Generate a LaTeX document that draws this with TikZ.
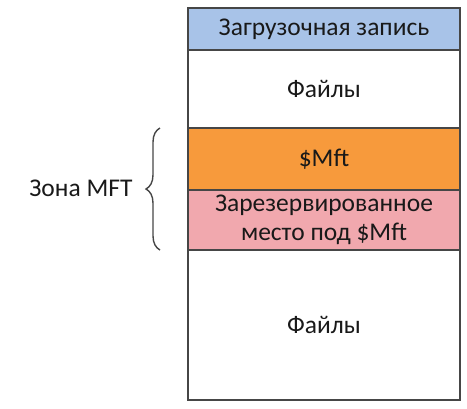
\documentclass[tikz,border=0pt]{standalone}
\usepackage{fontspec}
\setmainfont{Carlito}
\usetikzlibrary{decorations.pathreplacing}
\definecolor{bootblue}{RGB}{168,195,232}
\definecolor{mftorange}{RGB}{247,154,60}
\definecolor{resvpink}{RGB}{241,168,174}
\definecolor{edgegray}{RGB}{70,70,70}
\begin{document}
\begin{tikzpicture}[x=1pt, y=-1pt, lbl/.style={font=\fontsize{25.5}{29}\selectfont, text=black!90, align=center}]
\useasboundingbox (0,0) rectangle (467,408);
% Загрузочная запись
\fill[bootblue] (188,8) rectangle (460,50);
\node[lbl] (boot) at (324,29) {Загрузочная запись};
% Файлы
\node[lbl] (files1) at (324,89) {Файлы};
% $Mft
\fill[mftorange] (188,128) rectangle (460,190);
\node[lbl] (mft) at (324,159) {\$Mft};
% резерв
\fill[resvpink] (188,190) rectangle (460,250);
\node[lbl] (resv) at (324,220) {Зарезервированное\\место под \$Mft};
% Файлы
\node[lbl] (files2) at (324,325) {Файлы};
% рамка
\draw[line width=1.5pt, edgegray] (188,8) rectangle (460,400);
\foreach \y in {50,128,190,250}
  \draw[line width=1.5pt, edgegray] (188,\y) -- (460,\y);
% Зона MFT
\draw[line width=1.4pt, edgegray, decorate, decoration={brace, amplitude=14pt}] (160,250) -- (160,128);
\node[lbl, anchor=east] (zone) at (136,188) {Зона MFT};
\end{tikzpicture}
\end{document}
